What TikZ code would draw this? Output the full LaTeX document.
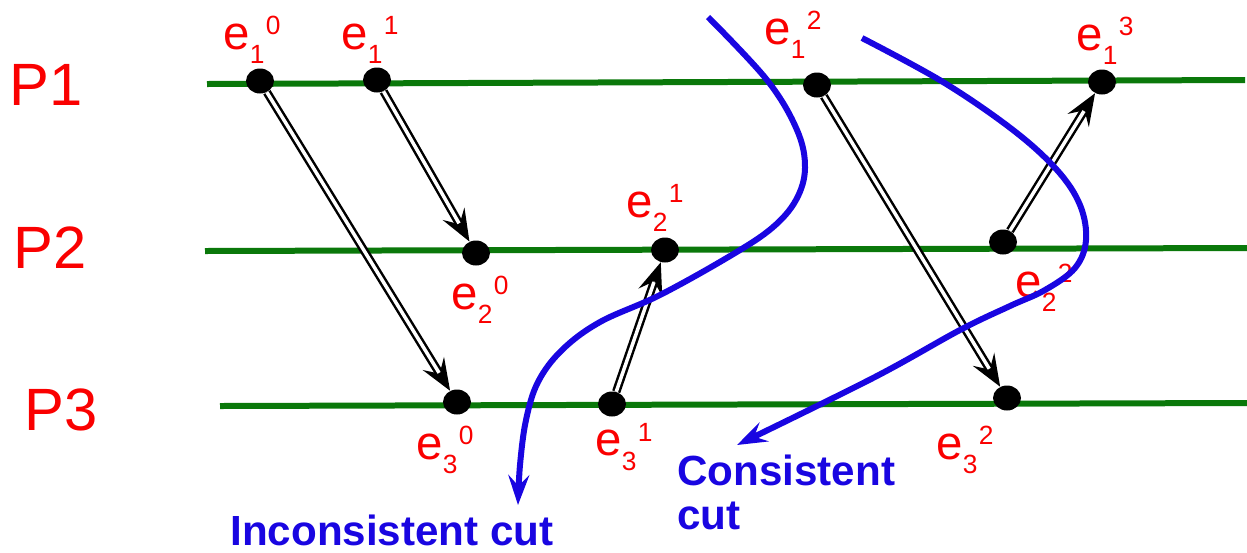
\documentclass[tikz,border=0pt]{standalone}
\usepackage{fontspec}
\setmainfont{Liberation Sans}
\usetikzlibrary{arrows.meta,shapes.geometric,calc}
\definecolor{gline}{RGB}{10,120,10}
\definecolor{cutblue}{RGB}{25,5,225}
\definecolor{lblred}{RGB}{250,0,0}
\newcommand{\ev}[2]{e\raisebox{-0.3em}{\fontsize{15}{16}\selectfont #1}\hspace{0.03em}\raisebox{0.3em}{\fontsize{15}{16}\selectfont #2}}
\newcommand{\msgarrow}[2]{%
  \draw[msgtip] ($(#1)!0.8!(#2)$) -- (#2);
  \draw[msgshaft] (#1) -- (#2);}
\tikzset{
  proc/.style={gline, line width=0.12cm},
  evt/.style={ellipse, fill=black, minimum width=0.56cm, minimum height=0.5cm, inner sep=0},
  elbl/.style={text=lblred, font=\fontsize{27}{30}\selectfont, inner sep=0},
  plbl/.style={text=lblred, font=\fontsize{34}{36}\selectfont, inner sep=0},
  msgtip/.style={black, line width=0.05cm, -{Stealth[length=0.64cm,width=0.5cm,inset=0.24cm]}},
  msgshaft/.style={double, double distance=0.07cm, line width=0.05cm, draw=black, shorten >=0.42cm},
  cut/.style={cutblue, line width=0.12cm, -{Stealth[length=0.6cm,width=0.42cm,inset=0.22cm]}},
  cutlbl/.style={text=cutblue, font=\fontsize{24}{25}\selectfont\bfseries, inner sep=0}
}
\begin{document}
\begin{tikzpicture}[x=0.02cm,y=-0.02cm]
\useasboundingbox (0,0) rectangle (1247,552);
% process lines
\coordinate (p1a) at (207,84); \coordinate (p1b) at (1245,80);
\coordinate (p2a) at (205,251); \coordinate (p2b) at (1247,248);
\coordinate (p3a) at (220,406); \coordinate (p3b) at (1247,403);
\draw[proc] (p1a) -- (p1b);
\draw[proc] (p2a) -- (p2b);
\draw[proc] (p3a) -- (p3b);
\node[plbl] (P1) at (46,85) {P1};
\node[plbl] (P2) at (50,248) {P2};
\node[plbl] (P3) at (61,410) {P3};
% events
\node[evt] (e10) at (260,81) {};
\node[evt] (e11) at (377,80) {};
\node[evt] (e12) at (817,85) {};
\node[evt] (e13) at (1102,82) {};
\node[evt] (e20) at (476,253) {};
\node[evt] (e21) at (665,250) {};
\node[evt] (e22) at (1003,242) {};
\node[evt] (e30) at (457,402) {};
\node[evt] (e31) at (612,404) {};
\node[evt] (e32) at (1007,398) {};
% labels
\node[elbl] (l10) at (252,40) {\ev{1}{0}};
\node[elbl] (l11) at (370,40) {\ev{1}{1}};
\node[elbl] (l12) at (793,35) {\ev{1}{2}};
\node[elbl] (l13) at (1105,41) {\ev{1}{3}};
\node[elbl] (l20) at (480,300) {\ev{2}{0}};
\node[elbl] (l21) at (655,208) {\ev{2}{1}};
\node[elbl] (l22) at (1044,288) {\ev{2}{2}};
\node[elbl] (l30) at (445,450) {\ev{3}{0}};
\node[elbl] (l31) at (624,447) {\ev{3}{1}};
\node[elbl] (l32) at (965,450) {\ev{3}{2}};
% messages
\msgarrow{e10}{e30}
\msgarrow{e11}{e20}
\msgarrow{e31}{e21}
\msgarrow{e12}{e32}
\msgarrow{e22}{e13}
% cuts
\draw[cut] plot[smooth, tension=0.6] coordinates {(708,17) (767,80) (797,130) (805,168) (796,200) (772,228) (730,256) (660,295) (600,322) (562,350) (538,382) (526,420) (520,465) (518,505)};
\draw[cut] plot[smooth, tension=0.6] coordinates {(862,38) (943,82) (1013,130) (1057,170) (1080,205) (1086,240) (1075,268) (1045,290) (1010,306) (960,330) (873,378) (737,445)};
\node[cutlbl, anchor=base west] (inc) at (230,545) {Inconsistent cut};
\node[cutlbl, anchor=north west, align=left] (con) at (677,455) {Consistent\\cut};
\end{tikzpicture}
\end{document}
